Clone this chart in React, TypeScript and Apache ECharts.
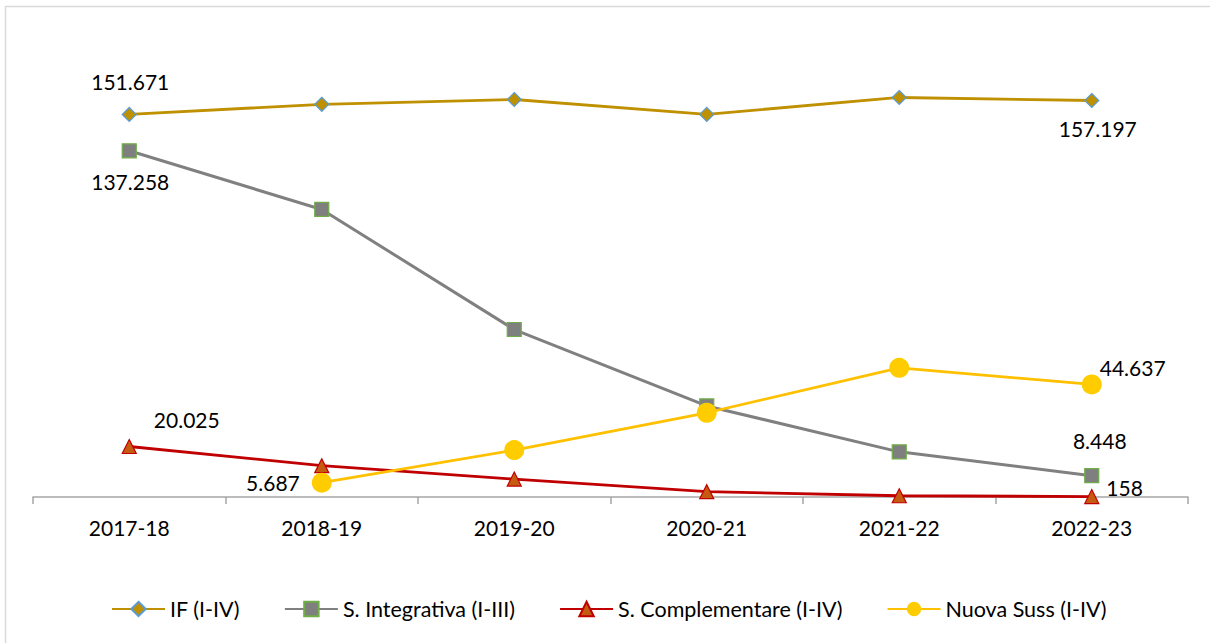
import React, { useEffect, useRef } from "react";
import * as echarts from "echarts";

const categories = ["2017-18", "2018-19", "2019-20", "2020-21", "2021-22", "2022-23"];
const seriesNames = ["IF (I-IV)", "S. Integrativa (I-III)", "S. Complementare (I-IV)", "Nuova Suss (I-IV)"];
const ifValues = [151671, 155700, 157600, 151700, 158400, 157197];
const integrativaValues = [137258, 114000, 66400, 36100, 17900, 8448];
const complementareValues = [20025, 12400, 7100, 2100, 500, 158];
const nuovaSussValues: (number | null)[] = [null, 5687, 18600, 33400, 51200, 44637];

const FONT = "Lato";

function fmt(v: number): string {
  return String(Math.round(v)).replace(/\B(?=(\d{3})+(?!\d))/g, ".");
}

type LabelSpec = { idx: number; position: string; offset: [number, number] };

function buildData(values: (number | null)[], labels: LabelSpec[]) {
  return values.map((v, i) => {
    const spec = labels.find((l) => l.idx === i);
    if (v === null) return { value: null };
    if (!spec) return { value: v };
    return {
      value: v,
      label: {
        show: true,
        position: spec.position,
        offset: spec.offset,
        distance: 5,
        formatter: () => fmt(v),
        color: "#000000",
        fontFamily: FONT,
        fontSize: 21,
      },
    };
  });
}

export default function App() {
  const ref = useRef<HTMLDivElement>(null);

  useEffect(() => {
    document.body.style.margin = "0";
    if (!ref.current) return;
    const chart = echarts.init(ref.current, undefined, { renderer: "svg" });
    const last = categories.length - 1;
    const option = {
      animation: false,
      backgroundColor: "#ffffff",
      textStyle: { fontFamily: FONT },
      graphic: [
        {
          type: "rect",
          shape: { x: 5.5, y: 6.5, width: 1230, height: 660 },
          style: { fill: "none", stroke: "#d9d9d9", lineWidth: 1.5 },
          silent: true,
        },
      ],
      grid: { left: 33, right: 22, top: 43, bottom: 146, containLabel: false },
      legend: {
        data: seriesNames,
        left: 106,
        top: 593,
        itemWidth: 53,
        itemHeight: 18,
        itemGap: 44,
        textStyle: { fontFamily: FONT, fontSize: 21.5, color: "#000000", padding: [0, 0, 0, 0] },
      },
      xAxis: {
        type: "category",
        data: categories,
        boundaryGap: true,
        axisLine: { show: true, lineStyle: { color: "#a6a6a6", width: 1.5 } },
        axisTick: { show: true, length: 7, alignWithLabel: false, lineStyle: { color: "#a6a6a6", width: 1.5 } },
        axisLabel: { margin: 20, color: "#000000", fontFamily: FONT, fontSize: 21 },
        splitLine: { show: false },
      },
      yAxis: {
        type: "value",
        min: 0,
        max: 180000,
        show: false,
        splitLine: { show: false },
      },
      series: [
        {
          name: seriesNames[0],
          type: "line",
          symbol: "diamond",
          symbolSize: 14,
          lineStyle: { color: "#BF9000", width: 2.8 },
          itemStyle: { color: "#BF9000", borderColor: "#5B9BD5", borderWidth: 1.2 },
          data: buildData(ifValues, [
            { idx: 0, position: "top", offset: [1, -10] },
            { idx: last, position: "bottom", offset: [6, 5] },
          ]),
          z: 3,
        },
        {
          name: seriesNames[1],
          type: "line",
          symbol: "rect",
          symbolSize: 14,
          lineStyle: { color: "#808080", width: 3 },
          itemStyle: { color: "#7F7F7F", borderColor: "#70AD47", borderWidth: 1.2 },
          data: buildData(integrativaValues, [
            { idx: 0, position: "bottom", offset: [1, 8] },
            { idx: last, position: "top", offset: [8, -12] },
          ]),
          z: 3,
        },
        {
          name: seriesNames[2],
          type: "line",
          symbol: "triangle",
          symbolSize: 14,
          lineStyle: { color: "#C00000", width: 2.8 },
          itemStyle: { color: "#C55A11", borderColor: "#C00000", borderWidth: 1.2 },
          data: buildData(complementareValues, [
            { idx: 0, position: "right", offset: [12, -27] },
            { idx: last, position: "right", offset: [2, -9] },
          ]),
          z: 3,
        },
        {
          name: seriesNames[3],
          type: "line",
          symbol: "circle",
          symbolSize: 20,
          lineStyle: { color: "#FFC000", width: 2.8 },
          itemStyle: { color: "#FFCC00", borderColor: "#FFCC00", borderWidth: 0 },
          connectNulls: false,
          data: buildData(nuovaSussValues, [
            { idx: 1, position: "left", offset: [-7, 0] },
            { idx: last, position: "right", offset: [-7, -17] },
          ]),
          z: 4,
        },
      ],
    };
    chart.setOption(option as any);
    return () => {
      chart.dispose();
    };
  }, []);

  return <div ref={ref} style={{ width: 1210, height: 643 }} />;
}
